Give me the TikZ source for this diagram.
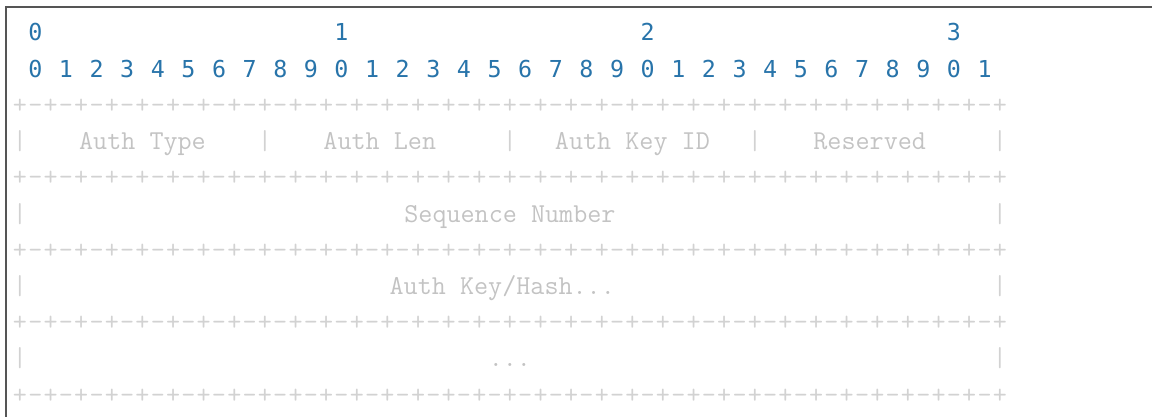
\documentclass[tikz,border=0pt]{standalone}
\usepackage{fontspec}
\newfontfamily\numfont{DejaVu Sans Mono}
\usetikzlibrary{positioning}
\definecolor{numblue}{RGB}{40,116,170}
\definecolor{artgray}{RGB}{210,210,210}
\definecolor{lblgray}{RGB}{195,195,195}
\definecolor{framegray}{RGB}{85,85,85}
\tikzset{bitnum/.style={text=numblue, font=\numfont\fontsize{17.5}{19}\selectfont, inner sep=0pt, anchor=base}}
\tikzstyle{art}=[text=artgray, font=\ttfamily\fontsize{20.5}{24}\selectfont, inner sep=0pt, anchor=base]
\tikzstyle{lbl}=[art, text=lblgray]

\begin{document}
\begin{tikzpicture}[x=0.75pt, y=-0.75pt]
\useasboundingbox (0,0) rectangle (1152,417);
\clip (0,0) rectangle (1152,417);
\draw[framegray, line width=1.1pt] (6,7) rectangle (1180,440);

\foreach \i/\d in {1/0, 21/1, 41/2, 61/3}
  \node[bitnum] (tens\d) at (20+15.31*\i, 41) {\d};
\foreach \k [evaluate=\k as \d using {int(mod(\k,10))}] in {0,...,31}
  \node[bitnum] (bit\k) at (20+15.31*2*\k+15.31, 77.2) {\d};

\foreach \r in {2,4,...,10} {
  \foreach \i in {0,2,...,64}
    \node[art] (plus\r-\i) at (20+15.31*\i, 41+36.2*\r) {+};
  \foreach \i in {1,3,...,63}
    \node[art] (dash\r-\i) at (20+15.31*\i, 41+36.2*\r) {-};
}
\foreach \i in {0,16,32,48,64}
  \node[art] (bar3-\i) at (20+15.31*\i, 41+36.2*3) {|};
\foreach \r in {5,7,9} {
  \node[art] (bar\r-0) at (20, 41+36.2*\r) {|};
  \node[art] (bar\r-64) at (20+15.31*64, 41+36.2*\r) {|};
}

\node[lbl] (authtype) at (20+15.31*8, 41+36.2*3) {Auth Type};
\node[lbl] (authlen) at (20+15.31*23.5, 41+36.2*3) {Auth Len};
\node[lbl] (keyid) at (20+15.31*40, 41+36.2*3) {Auth Key ID};
\node[lbl] (reserved) at (20+15.31*55.5, 41+36.2*3) {Reserved};
\node[lbl] (seqnum) at (20+15.31*32, 41+36.2*5) {Sequence Number};
\node[lbl] (keyhash) at (20+15.31*31.5, 41+36.2*7) {Auth Key/Hash...};
\node[lbl] (more) at (20+15.31*32, 41+36.2*9) {...};
\end{tikzpicture}
\end{document}
